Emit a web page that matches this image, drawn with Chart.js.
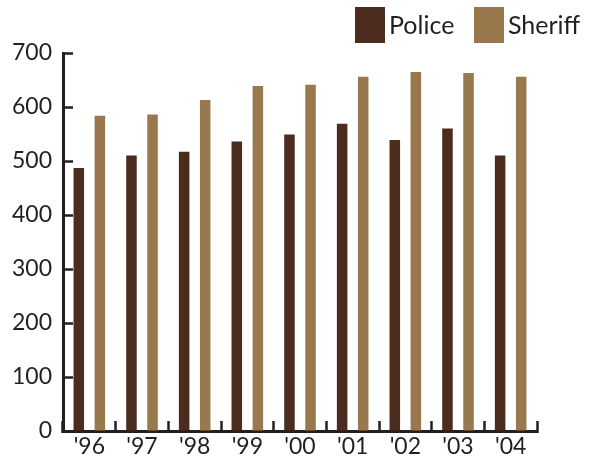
<!DOCTYPE html>
<html>
<head>
<meta charset="utf-8">
<script src="https://cdn.jsdelivr.net/npm/chart.js@4"></script>
<style>
  html, body { margin: 0; padding: 0; background: #fff; }
  #wrap { position: relative; width: 595px; height: 457px; }
  .key { position: absolute; font-family: Lato, sans-serif; font-size: 25px; color: #231F20; line-height: 36px; }
  .key span { position: absolute; top: 0; width: 30px; height: 36px; }
</style>
</head>
<body>
<div id="wrap">
  <canvas id="chart" width="595" height="457"></canvas>
  <div id="legend"></div>
</div>
<script>
// Data
const years = ["'96", "'97", "'98", "'99", "'00", "'01", "'02", "'03", "'04"];
const police = [487, 510, 517, 536, 549, 569, 539, 560, 510];
const sheriff = [584, 586, 613, 639, 641, 656, 665, 663, 656];
const seriesNames = ['Police', 'Sheriff'];
const seriesColors = ['#4B2C1E', '#98784C'];

const ink = '#231F20';
const font = { family: 'Lato, sans-serif', size: 23 };

// simple legend above the plot, right side
const legend = document.getElementById('legend');
const keyLeft = [355, 474];
seriesNames.forEach((name, i) => {
  const d = document.createElement('div');
  d.className = 'key';
  d.style.left = keyLeft[i] + 'px';
  d.style.top = '7px';
  d.innerHTML = '<span style="left:0;background:' + seriesColors[i] + '"></span>' +
    '<div style="position:absolute;left:34px;top:-1px;white-space:nowrap">' + name + '</div>';
  legend.appendChild(d);
});

// scales keep their own label padding out of the layout
function noPad(s) {
  s.paddingTop = 0; s.paddingBottom = 0; s.paddingLeft = 0; s.paddingRight = 0;
}

const ctx = document.getElementById('chart').getContext('2d');
const chart = new Chart(ctx, {
  type: 'bar',
  data: {
    labels: years,
    datasets: [
      { label: seriesNames[0], data: police, backgroundColor: seriesColors[0] },
      { label: seriesNames[1], data: sheriff, backgroundColor: seriesColors[1] },
    ],
  },
  options: {
    responsive: false,
    animation: false,
    categoryPercentage: 0.8,
    barPercentage: 0.5,
    layout: { autoPadding: false, padding: { top: 53, right: 58, left: 0, bottom: 0 } },
    plugins: {
      legend: { display: false },
      tooltip: { enabled: false },
    },
    scales: {
      x: {
        grid: {
          offset: true,
          drawOnChartArea: false,
          tickLength: -10,
          tickColor: ink,
          tickWidth: 2.5,
        },
        border: { color: ink, width: 3 },
        ticks: { color: ink, font: font, padding: 12, maxRotation: 0 },
        afterFit: (s) => { s.height = 26; noPad(s); },
      },
      y: {
        min: 0,
        max: 700,
        ticks: { stepSize: 100, color: ink, font: font, padding: 21 },
        grid: {
          drawOnChartArea: false,
          tickLength: -10,
          tickColor: ink,
          tickWidth: 2.5,
        },
        border: { color: ink, width: 3 },
        afterFit: (s) => { s.width = 63; noPad(s); },
      },
    },
  },
});
</script>
</body>
</html>
